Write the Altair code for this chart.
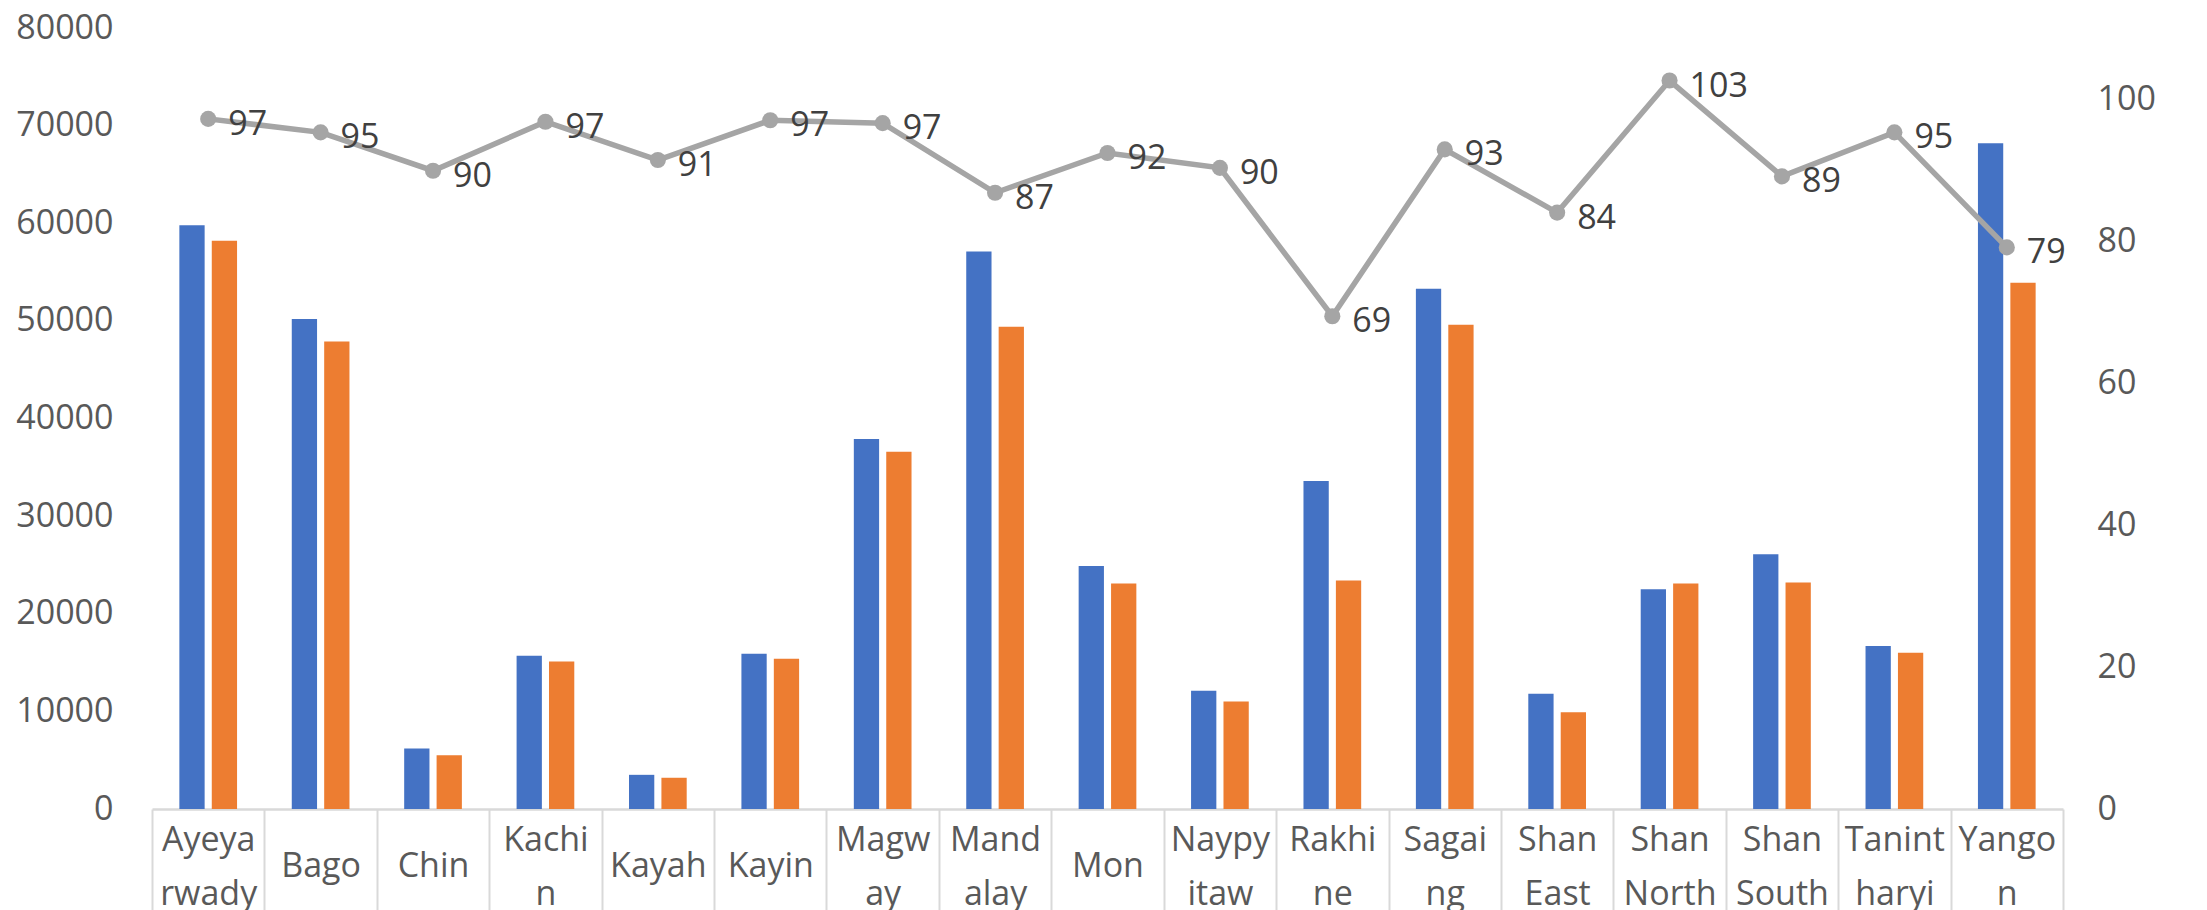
import altair as alt
import pandas as pd

regions = ["Ayeyarwady", "Bago", "Chin", "Kachin", "Kayah", "Kayin", "Magway",
           "Mandalay", "Mon", "Naypyitaw", "Rakhine", "Sagaing", "Shan East",
           "Shan North", "Shan South", "Tanintharyi", "Yangon"]
region_labels = ["Ayeya|rwady", "Bago", "Chin", "Kachi|n", "Kayah", "Kayin", "Magw|ay",
                 "Mand|alay", "Mon", "Naypy|itaw", "Rakhi|ne", "Sagai|ng", "Shan|East",
                 "Shan|North", "Shan|South", "Tanint|haryi", "Yango|n"]
series_names = ["Series 1", "Series 2"]
series1 = [59800, 50200, 6200, 15700, 3500, 15900, 37900, 57100, 24900, 12100,
           33600, 53300, 11800, 22500, 26100, 16700, 68200]
series2 = [58200, 47900, 5500, 15100, 3200, 15400, 36600, 49400, 23100, 11000,
           23400, 49600, 9900, 23100, 23200, 16000, 53900]
ratio = [97.2, 95.3, 89.9, 96.8, 91.4, 97.0, 96.6, 86.8, 92.4, 90.3,
         69.4, 92.9, 84.0, 102.6, 89.1, 95.3, 79.1]
left_ticks = [0, 10000, 20000, 30000, 40000, 50000, 60000, 70000, 80000]
right_ticks = [0, 20, 40, 60, 80, 100]

FONT = "Open Sans"
AXIS_COLOR = "#595959"

bars_df = pd.DataFrame({
    "region": regions * 2,
    "series": [series_names[0]] * len(regions) + [series_names[1]] * len(regions),
    "value": series1 + series2,
})
line_df = pd.DataFrame({"region": regions, "ratio": ratio})

reg_arr = "[" + ",".join(f"'{r}'" for r in regions) + "]"
lab_arr = "[" + ",".join(f"'{l}'" for l in region_labels) + "]"
label_expr = (f"indexof({reg_arr}, datum.value) < 0 ? '' : "
              f"split({lab_arr}[indexof({reg_arr}, datum.value)], '|')")
single = [r for r, l in zip(regions, region_labels) if "|" not in l]
single_test = "indexof([" + ",".join(f"'{r}'" for r in single) + "], datum.value) >= 0"

# full-width category bands so that the separator ticks fall on category boundaries
xscale = alt.Scale(domain=regions, paddingInner=0, paddingOuter=0)
x = alt.X("region:N", sort=regions, scale=xscale, title=None,
          axis=alt.Axis(labelExpr=label_expr, tickBand="extent",
                        tickSize=101, tickColor="#d9d9d9", tickWidth=2,
                        domainColor="#d9d9d9", domainWidth=2.5,
                        labelPadding={"condition": {"test": single_test, "value": -44},
                                      "value": -70},
                        labelLineHeight=54, labelAngle=0, labelBaseline="middle",
                        labelFont=FONT, labelFontSize=34, labelColor=AXIS_COLOR,
                        labelOverlap=False, labelBound=False, labelFlush=False,
                        labelLimit=400))

bars = alt.Chart(bars_df).mark_bar().encode(
    x=x,
    xOffset=alt.XOffset("series:N", sort=series_names,
                        scale=alt.Scale(paddingInner=0.22, paddingOuter=0.844)),
    y=alt.Y("value:Q", scale=alt.Scale(domain=[0, 80000]), title=None,
            axis=alt.Axis(values=left_ticks, format="d", grid=False, ticks=False,
                          domain=False, labelPadding=39, labelFont=FONT,
                          labelFontSize=34, labelColor=AXIS_COLOR, labelFlush=False)),
    color=alt.Color("series:N", sort=series_names,
                    scale=alt.Scale(domain=series_names, range=["#4472C4", "#ED7D31"]),
                    legend=None),
)

base = alt.Chart(line_df).encode(
    x=x,
    y=alt.Y("ratio:Q", scale=alt.Scale(domain=[0, 110]), title=None,
            axis=alt.Axis(orient="right", values=right_ticks, grid=False, ticks=False,
                          domain=False, labelPadding=34, labelFont=FONT,
                          labelFontSize=34, labelColor=AXIS_COLOR, labelFlush=False)),
)
line = base.mark_line(color="#A5A5A5", strokeWidth=5.5)
pts = base.mark_point(filled=True, color="#A5A5A5", size=260, opacity=1)
txt = base.mark_text(align="left", baseline="middle", dx=20, dy=6, font=FONT,
                     fontSize=34, color="#404040").encode(
    text=alt.Text("ratio:Q", format=".0f"))

right = alt.layer(line, pts, txt)

chart = alt.layer(bars, right).resolve_scale(y="independent").properties(
    width=1911, height=781,
    padding={"left": 152, "top": 28, "right": 144, "bottom": 101},
    autosize=alt.AutoSizeParams(type="none"),
    background="white",
).configure_view(stroke=None)

chart.save("out.html", embed_options={"renderer": "svg", "actions": False})
